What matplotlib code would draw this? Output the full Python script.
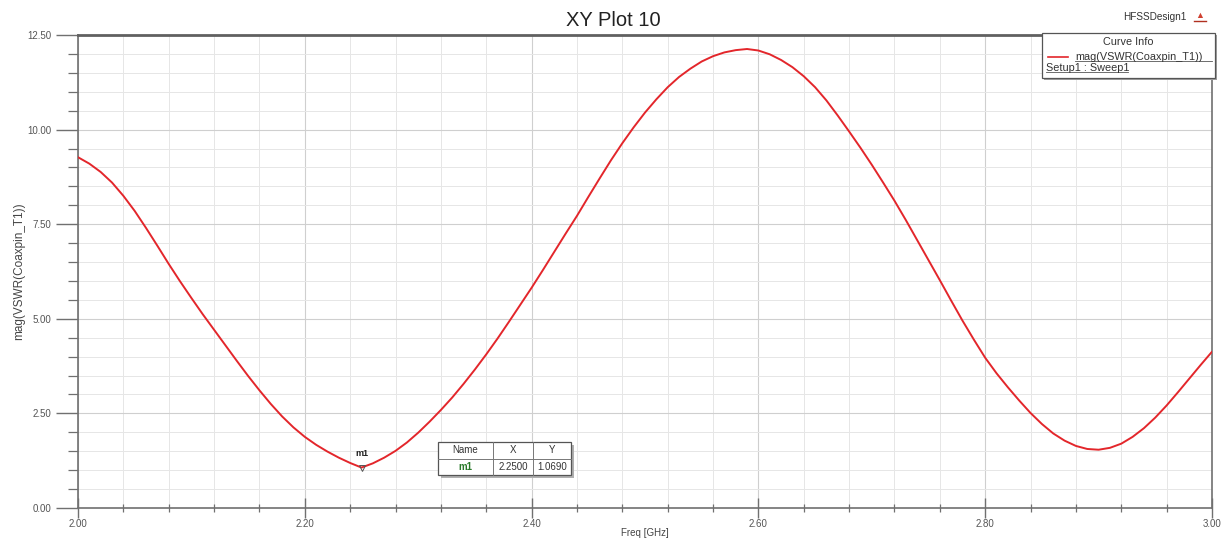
import matplotlib
matplotlib.use("Agg")
import matplotlib.pyplot as plt
from matplotlib.ticker import MultipleLocator, FormatStrFormatter
from matplotlib.patches import Rectangle
from matplotlib.lines import Line2D

plt.rcParams['font.family'] = ['Liberation Sans', 'DejaVu Sans']

# ---- data ----
freq_ghz = [2.00, 2.01, 2.02, 2.03, 2.04, 2.05, 2.06, 2.07, 2.08, 2.09,
            2.10, 2.11, 2.12, 2.13, 2.14, 2.15, 2.16, 2.17, 2.18, 2.19,
            2.20, 2.21, 2.22, 2.23, 2.24, 2.25, 2.26, 2.27, 2.28, 2.29,
            2.30, 2.31, 2.32, 2.33, 2.34, 2.35, 2.36, 2.37, 2.38, 2.39,
            2.40, 2.41, 2.42, 2.43, 2.44, 2.45, 2.46, 2.47, 2.48, 2.49,
            2.50, 2.51, 2.52, 2.53, 2.54, 2.55, 2.56, 2.57, 2.58, 2.59,
            2.60, 2.61, 2.62, 2.63, 2.64, 2.65, 2.66, 2.67, 2.68, 2.69,
            2.70, 2.71, 2.72, 2.73, 2.74, 2.75, 2.76, 2.77, 2.78, 2.79,
            2.80, 2.81, 2.82, 2.83, 2.84, 2.85, 2.86, 2.87, 2.88, 2.89,
            2.90, 2.91, 2.92, 2.93, 2.94, 2.95, 2.96, 2.97, 2.98, 2.99,
            3.00]
vswr = [9.27, 9.10, 8.88, 8.60, 8.25, 7.85, 7.40, 6.93, 6.45, 5.99,
        5.55, 5.12, 4.71, 4.30, 3.89, 3.49, 3.11, 2.75, 2.42, 2.13,
        1.88, 1.67, 1.49, 1.33, 1.19, 1.069, 1.18, 1.33, 1.51, 1.73,
        1.99, 2.28, 2.59, 2.92, 3.28, 3.66, 4.06, 4.48, 4.92, 5.37,
        5.82, 6.29, 6.77, 7.25, 7.72, 8.22, 8.71, 9.19, 9.64, 10.06,
        10.45, 10.80, 11.12, 11.39, 11.61, 11.80, 11.94, 12.04, 12.10, 12.13,
        12.09, 11.99, 11.84, 11.65, 11.41, 11.12, 10.77, 10.37, 9.95, 9.52,
        9.07, 8.60, 8.12, 7.61, 7.08, 6.55, 6.02, 5.48, 4.95, 4.45,
        3.97, 3.56, 3.19, 2.84, 2.51, 2.22, 1.97, 1.78, 1.64, 1.56,
        1.54, 1.59, 1.70, 1.88, 2.11, 2.39, 2.71, 3.06, 3.42, 3.78,
        4.13]

marker_name = "m1"
marker_x = 2.25
marker_y = 1.069

x_ticks = [2.00, 2.20, 2.40, 2.60, 2.80, 3.00]
y_ticks = [0.00, 2.50, 5.00, 7.50, 10.00, 12.50]

title = "XY Plot 10"
design_name = "HFSSDesign1"
x_label = "Freq [GHz]"
y_label = "mag(VSWR(Coaxpin_T1))"
legend_title = "Curve Info"
legend_line1 = "mag(VSWR(Coaxpin_T1))"
legend_line2 = "Setup1 : Sweep1"

# ---- figure ----
W, H = 1228, 540
fig = plt.figure(figsize=(W / 100, H / 100), dpi=100)
fig.patch.set_facecolor('white')
ax = fig.add_axes([78 / W, 1 - 508 / H, (1212 - 78) / W, (508 - 35) / H])

ax.plot(freq_ghz, vswr, color='#e3262b', lw=1.4, zorder=3,
        solid_joinstyle='round', solid_capstyle='round')

ax.set_xlim(2.0, 3.0)
ax.set_ylim(0.0, 12.5)
ax.set_xticks(x_ticks)
ax.set_yticks(y_ticks)
ax.xaxis.set_minor_locator(MultipleLocator(0.04))
ax.yaxis.set_minor_locator(MultipleLocator(0.5))
ax.xaxis.set_major_formatter(FormatStrFormatter('%.2f'))
ax.yaxis.set_major_formatter(FormatStrFormatter('%.2f'))

ax.grid(which='major', color='#cfcfcf', lw=0.8)
ax.grid(which='minor', color='#e6e6e6', lw=0.7)
ax.set_axisbelow(True)

for s in ['left', 'bottom', 'right']:
    ax.spines[s].set_color('#707070')
    ax.spines[s].set_linewidth(1.2)
ax.spines['top'].set_color('#606060')
ax.spines['top'].set_linewidth(2.0)

ax.tick_params(axis='y', which='major', direction='out', length=16, width=1.0,
               color='#707070', labelsize=7, labelcolor='#555555', pad=3)
ax.tick_params(axis='y', which='minor', direction='out', length=7, width=0.9,
               color='#707070')
ax.tick_params(axis='x', which='major', direction='inout', length=14, width=1.0,
               color='#707070', labelsize=7, labelcolor='#555555', pad=1)
ax.tick_params(axis='x', which='minor', direction='inout', length=6, width=0.9,
               color='#707070')
ax.tick_params(right=False, top=False, which='both')

ax.set_xlabel(x_label, fontsize=7, color='#444444', labelpad=-1)
ax.set_ylabel(y_label, fontsize=8.5, color='#444444', labelpad=2)

fig.text(613 / W, 1 - 20 / H, title, fontsize=14.5, color='#222222',
         ha='center', va='center')
fig.text(1186 / W, 1 - 17 / H, design_name, fontsize=7.2, color='#333333',
         ha='right', va='center')
fig.text(1200 / W, 1 - 16 / H, "\u25B2", fontsize=6.5, color='#d04030',
         ha='center', va='center')
fig.lines.append(Line2D([1194 / W, 1206 / W], [1 - 21 / H, 1 - 21 / H],
                        transform=fig.transFigure, color='#b03020', lw=1.0))

# marker
ax.plot([marker_x], [marker_y], marker='v', ms=4, mfc='none', mec='#555555',
        mew=0.7, zorder=4)
ax.annotate(marker_name, (marker_x, marker_y), xytext=(0, 7),
            textcoords='offset points', ha='center', va='bottom',
            fontsize=6.5, color='#222222', fontweight='bold')

# marker table
def px(xp, yp):
    return (xp / W, 1 - yp / H)

tx0, tx1, ty0, ty1 = 438, 571, 442, 475
cols = [438, 493, 533, 571]
fig.patches.append(Rectangle(px(tx0 + 3, ty1 + 3), (tx1 - tx0) / W, (ty1 - ty0) / H,
                             transform=fig.transFigure, facecolor='#b0b0b0',
                             edgecolor='none', zorder=5))
fig.patches.append(Rectangle(px(tx0, ty1), (tx1 - tx0) / W, (ty1 - ty0) / H,
                             transform=fig.transFigure, facecolor='white',
                             edgecolor='#555555', lw=0.9, zorder=6))
for c in cols[1:-1]:
    fig.lines.append(Line2D([c / W, c / W], [1 - ty0 / H, 1 - ty1 / H],
                            transform=fig.transFigure, color='#777777', lw=0.7, zorder=7))
ymid = (ty0 + ty1) / 2
fig.lines.append(Line2D([tx0 / W, tx1 / W], [1 - ymid / H, 1 - ymid / H],
                        transform=fig.transFigure, color='#777777', lw=0.7, zorder=7))
row1 = ["Name", "X", "Y"]
row2 = [marker_name, "%.4f" % marker_x, "%.4f" % marker_y]
for i in range(3):
    cx = (cols[i] + cols[i + 1]) / 2
    fig.text(cx / W, 1 - (ty0 + 8) / H, row1[i], fontsize=7, color='#333333',
             ha='center', va='center', zorder=8)
    fig.text(cx / W, 1 - (ty1 - 8) / H, row2[i], fontsize=7,
             color='#2a7a2a' if i == 0 else '#333333',
             fontweight='bold' if i == 0 else 'normal',
             ha='center', va='center', zorder=8)

# legend box
lx0, lx1, ly0, ly1 = 1042, 1215, 33, 78
fig.patches.append(Rectangle(px(lx0 + 2, ly1 + 2), (lx1 - lx0) / W, (ly1 - ly0) / H,
                             transform=fig.transFigure, facecolor='#a0a0a0',
                             edgecolor='none', zorder=5))
box = Rectangle(px(lx0, ly1), (lx1 - lx0) / W, (ly1 - ly0) / H,
                transform=fig.transFigure, facecolor='white',
                edgecolor='#555555', lw=0.9, zorder=6)
fig.patches.append(box)
fig.text((lx0 + lx1) / 2 / W, 1 - 42 / H, legend_title, fontsize=7.8,
         color='#333333', ha='center', va='center', zorder=8)
fig.lines.append(Line2D([1048 / W, 1068 / W], [1 - 57 / H, 1 - 57 / H],
                        transform=fig.transFigure, color='#e3262b', lw=1.2, zorder=8))
t1 = fig.text(1075 / W, 1 - 57 / H, legend_line1, fontsize=7.8, color='#333333',
              ha='left', va='center', zorder=8)
t1.set_clip_path(box)
t1.set_clip_on(True)
t2 = fig.text(1046 / W, 1 - 68 / H, legend_line2, fontsize=7.8, color='#333333',
              ha='left', va='center', zorder=8)
for y_u, x_a, x_b in [(61, 1075, 1212), (72, 1046, 1128)]:
    fig.lines.append(Line2D([x_a / W, x_b / W], [1 - y_u / H, 1 - y_u / H],
                            transform=fig.transFigure, color='#555555', lw=0.6, zorder=8))

fig.savefig('out.png', dpi=100, facecolor='white')
